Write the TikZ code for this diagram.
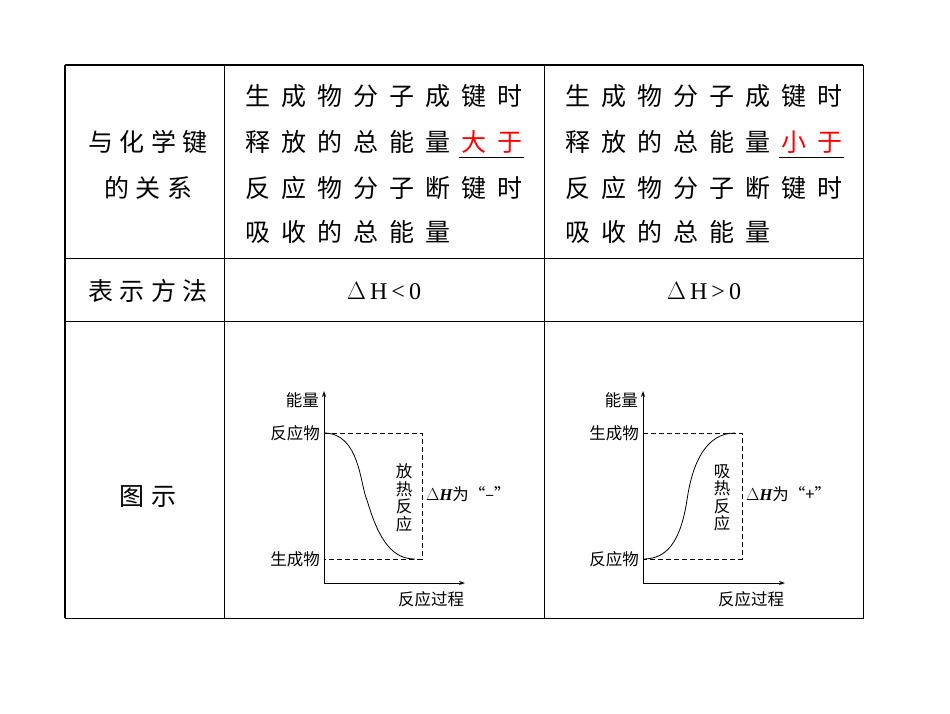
\documentclass[tikz,border=0pt]{standalone}
\usepackage{fontspec}
\usetikzlibrary{arrows.meta}
\setmainfont{Liberation Serif}
\newfontfamily\cjk{Noto Sans CJK SC}
\newfontfamily\cjksp[LetterSpace=44]{Noto Sans CJK SC}
\newfontfamily\cjkmd[LetterSpace=26]{Noto Sans CJK SC}
\begin{document}
\begin{tikzpicture}[x=1pt,y=-1pt,
  big/.style={font=\cjkmd\fontsize{25}{25}\selectfont,inner sep=0pt},
  sp/.style={font=\cjksp\fontsize{25}{25}\selectfont,inner sep=0pt,anchor=west},
  sm/.style={font=\cjk\fontsize{16.5}{16.5}\selectfont,inner sep=0pt},
  dsh/.style={dashed,dash pattern=on 5pt off 3pt,line width=0.7pt},
  ax/.style={line width=0.9pt,-{Stealth[length=6pt,width=4pt]}},
  grid/.style={line width=0.8pt}]
\useasboundingbox (0,0) rectangle (950,713);
% table
\draw[grid] (65,65) rectangle (863,618);
\draw[line width=2pt] (65,65) -- (65,618);
\draw[line width=1.5pt] (65,65) -- (863,65);
\draw[grid] (224,65) -- (224,618);
\draw[grid] (544,65) -- (544,618);
\draw[grid] (65,258) -- (863,258);
\draw[grid] (65,321) -- (863,321);
% column 1
\node[big] (c1a) at (148,142) {与化学键};
\node[big] (c1b) at (148,188) {的关系};
\node[big] (c1c) at (148,291) {表示方法};
\node[big] (c1d) at (148,497) {图示};
% column 2
\node[sp] (a1) at (245,96) {生成物分子成键时};
\node[sp] (a2) at (245,142) {释放的总能量\hspace{11pt}\textcolor{red}{大于}};
\node[sp] (a3) at (245,188) {反应物分子断键时};
\node[sp] (a4) at (245,232) {吸收的总能量};
\draw[line width=0.9pt] (459,157) -- (524,157);
\node[font=\fontsize{24}{24}\selectfont,inner sep=0pt] (d1) at (384,291) {$\Delta$\,H\,<\,0};
% column 3
\node[sp] (b1) at (565,96) {生成物分子成键时};
\node[sp] (b2) at (565,142) {释放的总能量\hspace{11pt}\textcolor{red}{小于}};
\node[sp] (b3) at (565,188) {反应物分子断键时};
\node[sp] (b4) at (565,232) {吸收的总能量};
\draw[line width=0.9pt] (779,157) -- (844,157);
\node[font=\fontsize{24}{24}\selectfont,inner sep=0pt] (d2) at (704,291) {$\Delta$\,H\,>\,0};
% graph 1
\coordinate (o1) at (324,583);
\coordinate (y1) at (324,391);
\coordinate (x1) at (465,583);
\draw[ax] (o1) -- (y1);
\draw[ax] (o1) -- (x1);
\coordinate (t1) at (324,433);
\coordinate (tr1) at (422,433);
\coordinate (br1) at (422,559);
\coordinate (bl1) at (324,559);
\coordinate (e1) at (415,559);
\draw[dsh] (t1) -- (tr1) -- (br1) -- (bl1);
\draw[line width=0.8pt] (t1) .. controls (360,433) and (360,485) .. (367,500) .. controls (380,545) and (395,559) .. (e1);
\node[sm,anchor=south east] (n1) at (319,408) {能量};
\node[sm,anchor=east] (r1) at (320,433) {反应物};
\node[sm,anchor=east] (p1) at (320,559) {生成物};
\node[sm,anchor=north] (h1) at (431,591) {反应过程};
\node[sm,align=center,font=\cjk\fontsize{16.5}{17.5}\selectfont] (v1) at (404,498) {放\\热\\反\\应};
\node[sm,anchor=west] (dh1) at (426,494) {$\Delta${\rmfamily\bfseries\itshape H}为“–”};
% graph 2
\coordinate (o2) at (643,583);
\coordinate (y2) at (643,391);
\coordinate (x2) at (785,583);
\draw[ax] (o2) -- (y2);
\draw[ax] (o2) -- (x2);
\coordinate (t2) at (643,433);
\coordinate (tr2) at (742,433);
\coordinate (br2) at (742,559);
\coordinate (bl2) at (643,559);
\coordinate (e2) at (735,433);
\draw[dsh] (t2) -- (tr2) -- (br2) -- (bl2);
\draw[line width=0.8pt] (bl2) .. controls (665,559) and (680,545) .. (687,500) .. controls (692,465) and (705,433) .. (e2);
\node[sm,anchor=south east] (n2) at (638,408) {能量};
\node[sm,anchor=east] (r2) at (639,433) {生成物};
\node[sm,anchor=east] (p2) at (639,559) {反应物};
\node[sm,anchor=north] (h2) at (751,591) {反应过程};
\node[sm,align=center,font=\cjk\fontsize{16.5}{17.5}\selectfont] (v2) at (722,498) {吸\\热\\反\\应};
\node[sm,anchor=west] (dh2) at (746,494) {$\Delta${\rmfamily\bfseries\itshape H}为“+”};
\end{tikzpicture}
\end{document}
